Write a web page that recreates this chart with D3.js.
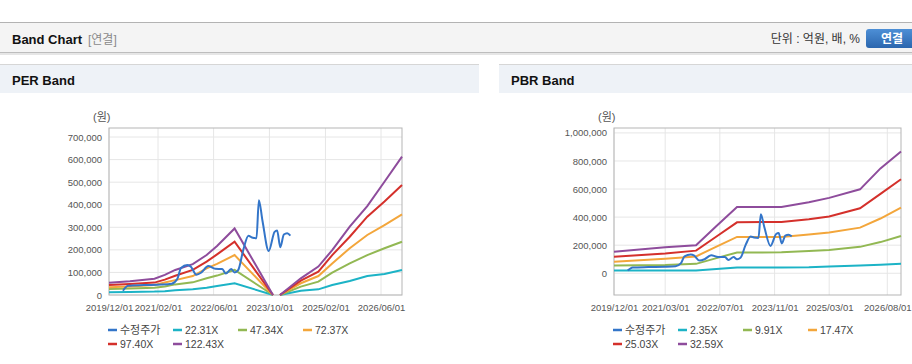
<!DOCTYPE html>
<html>
<head>
<meta charset="utf-8">
<script src="https://cdn.jsdelivr.net/npm/d3@7"></script>
<style>
body { margin: 0; background: #fff; }
svg text { font-family: "Liberation Sans", "Noto Sans CJK KR", sans-serif; }
</style>
</head>
<body>
<svg id="chart" width="912" height="364"></svg>
<script>
// PER band data (values in 원)
var perDates = ["2019/12/01","2020/06/01","2021/01/01","2021/04/01","2021/07/01","2021/12/01","2022/04/01","2022/07/01","2022/12/01","2023/11/01","2023/12/01","2024/01/01","2024/07/01","2024/12/01","2025/04/01","2025/09/01","2026/02/01","2026/07/01","2026/12/01"];
var per2231  = [12000,13000,15000,17000,21000,25000,32000,40000,52000,0,null,0,19000,25000,44000,62000,84000,93000,111000];
var per4734  = [27000,29000,32000,38000,47000,56000,74000,86000,111000,0,null,0,37000,59000,99000,140000,177000,207000,236000];
var per7237  = [34000,38000,44000,55000,66000,84000,118000,138000,177000,0,null,0,52000,84000,140000,207000,266000,310000,357000];
var per9740  = [44000,49000,55000,68000,85000,111000,148000,180000,236000,0,null,0,64000,103000,177000,258000,347000,414000,487000];
var per12243 = [54600,60600,72000,89000,111000,137000,177000,217000,295000,0,null,0,74000,126000,199000,303000,394000,502000,613000];
var perLabels = ["22.31X","47.34X","72.37X","97.40X","122.43X"];
var perXTicks = ["2019/12/01","2021/02/01","2022/06/01","2023/10/01","2025/02/01","2026/06/01"];
var perYTicks = [0,100000,200000,300000,400000,500000,600000,700000];

// PBR band data
var pbrDates = ["2019/12/01","2021/03/01","2021/12/01","2022/06/01","2022/12/01","2024/01/01","2024/09/01","2025/03/01","2025/12/01","2026/06/01","2026/12/01"];
var pbr235  = [19000,19000,19000,30000,41000,41000,42000,48000,55000,60000,67000];
var pbr991  = [55000,58000,67000,108000,148000,149000,158000,166000,188000,222000,266000];
var pbr1747 = [82000,104000,120000,190000,259000,259000,276000,290000,325000,390000,468000];
var pbr2503 = [118000,140000,161000,262000,363000,366000,384000,405000,463000,566000,670000];
var pbr3259 = [154000,186000,200000,336000,472000,472000,506000,537000,598000,747000,868000];
var pbrLabels = ["2.35X","9.91X","17.47X","25.03X","32.59X"];
var pbrXTicks = ["2019/12/01","2021/03/01","2022/07/01","2023/11/01","2025/03/01","2026/08/01"];
var pbrYTicks = [0,200000,400000,600000,800000,1000000];

// 수정주가 (adjusted price)
var priceDates = ["2020/04/01","2020/05/15","2020/10/01","2021/03/01","2021/06/01","2021/07/20","2021/08/20","2021/10/15","2021/11/15","2022/01/01","2022/02/15","2022/04/15","2022/06/15","2022/08/15","2022/09/15","2022/11/01","2022/12/01","2023/01/01","2023/02/15","2023/04/01","2023/05/01","2023/06/10","2023/07/01","2023/08/01","2023/09/25","2023/11/15","2023/12/07","2024/01/04","2024/02/04","2024/03/04","2024/04/01"];
var priceValues = [19000,41000,44000,46000,50000,72000,120000,133000,125000,90000,100000,128000,116000,115000,95000,115000,100000,110000,200000,262000,255000,252000,420000,330000,195000,280000,286000,212000,268000,274000,263000];
var priceLabel = "수정주가";

var colors = ["#3375c9","#1cb3c6","#92b853","#f3a63b","#d4302b","#8e4c9c"];

var parseDate = d3.timeParse("%Y/%m/%d");
var svg = d3.select("#chart");

// ---- page chrome ----
svg.append("rect").attr("x",0).attr("y",22).attr("width",912).attr("height",1).attr("fill","#b3b3b3");
svg.append("rect").attr("x",0).attr("y",23).attr("width",912).attr("height",30).attr("fill","#f4f4f4");
svg.append("rect").attr("x",0).attr("y",52).attr("width",912).attr("height",1).attr("fill","#bdbdbd");
svg.append("rect").attr("x",0).attr("y",53).attr("width",912).attr("height",2).attr("fill","#e6e6e6");
svg.append("text").attr("x",12).attr("y",44).attr("font-size",13).attr("font-weight","bold").attr("fill","#111").text("Band Chart");
svg.append("text").attr("x",88).attr("y",44).attr("font-size",12).attr("fill","#8a8a8a").text("[연결]");
svg.append("text").attr("x",860).attr("y",43).attr("font-size",12).attr("fill","#333").attr("text-anchor","end").text("단위 : 억원, 배, %");

var grad = svg.append("defs").append("linearGradient").attr("id","btn").attr("x1",0).attr("y1",0).attr("x2",0).attr("y2",1);
grad.append("stop").attr("offset","0%").attr("stop-color","#4d8fd6");
grad.append("stop").attr("offset","100%").attr("stop-color","#2b66ae");
svg.append("rect").attr("x",866).attr("y",29).attr("width",52).attr("height",19).attr("rx",3).attr("fill","url(#btn)");
svg.append("text").attr("x",892).attr("y",43).attr("font-size",12).attr("font-weight","bold").attr("fill","#fff").attr("text-anchor","middle").text("연결");

function panel(x0, w, title) {
    svg.append("rect").attr("x",x0).attr("y",64).attr("width",w).attr("height",1).attr("fill","#d6d6d6");
    svg.append("rect").attr("x",x0).attr("y",65).attr("width",w).attr("height",28).attr("fill","#eef2f7");
    svg.append("text").attr("x",x0+12).attr("y",85).attr("font-size",13).attr("font-weight","bold").attr("fill","#111").text(title);
}
panel(0, 479, "PER Band");
panel(499, 413, "PBR Band");

// ---- chart drawing ----
function drawBand(cfg) {
    var x = d3.scaleTime()
        .domain([parseDate("2019/12/01"), parseDate("2026/12/01")])
        .range([cfg.left, cfg.right]);
    var y = d3.scaleLinear().domain(cfg.yDomain).range([cfg.bottom, cfg.top]);

    var g = svg.append("g");

    // gridlines
    g.selectAll(".hgrid").data(cfg.yTicks).enter().append("line")
        .attr("x1", cfg.left).attr("x2", cfg.right)
        .attr("y1", function(d) { return y(d); }).attr("y2", function(d) { return y(d); })
        .attr("stroke", "#e6e6e6");
    g.selectAll(".vgrid").data(cfg.xTicks).enter().append("line")
        .attr("y1", cfg.top).attr("y2", cfg.bottom)
        .attr("x1", function(d) { return x(parseDate(d)); }).attr("x2", function(d) { return x(parseDate(d)); })
        .attr("stroke", "#e6e6e6");

    // frame
    g.append("rect").attr("x", cfg.left).attr("y", cfg.top)
        .attr("width", cfg.right - cfg.left).attr("height", cfg.bottom - cfg.top)
        .attr("fill", "none").attr("stroke", "#b5b5b5");

    // axes
    var yAxis = d3.axisLeft(y).tickValues(cfg.yTicks).tickSize(0).tickPadding(7)
        .tickFormat(d3.format(","));
    g.append("g").attr("transform", "translate(" + cfg.left + ",0)").call(yAxis)
        .call(function(a) { a.select(".domain").remove(); })
        .selectAll("text").attr("font-size", 9.5).attr("fill", "#555");

    var xAxis = d3.axisBottom(x).tickValues(cfg.xTicks.map(parseDate)).tickSize(0).tickPadding(9)
        .tickFormat(d3.timeFormat("%Y/%m/%d"));
    g.append("g").attr("transform", "translate(0," + cfg.bottom + ")").call(xAxis)
        .call(function(a) { a.select(".domain").remove(); })
        .selectAll("text").attr("font-size", 9.5).attr("fill", "#555");

    g.append("text").attr("x", cfg.left - 16).attr("y", 121).attr("font-size", 11)
        .attr("fill", "#555").text("(원)");

    // band lines
    var line = d3.line()
        .defined(function(d) { return d.v !== null; })
        .x(function(d) { return x(d.date); })
        .y(function(d) { return y(d.v); });

    cfg.bands.forEach(function(vals, i) {
        var pts = cfg.dates.map(function(s, j) { return { date: parseDate(s), v: vals[j] }; });
        g.append("path").datum(pts)
            .attr("fill", "none").attr("stroke", colors[i + 1]).attr("stroke-width", 2)
            .attr("d", line);
    });

    // price line
    var priceLine = d3.line().curve(d3.curveMonotoneX)
        .x(function(d) { return x(d.date); })
        .y(function(d) { return y(d.v); });
    var ppts = priceDates.map(function(s, j) { return { date: parseDate(s), v: priceValues[j] }; });
    g.append("path").datum(ppts)
        .attr("fill", "none").attr("stroke", colors[0]).attr("stroke-width", 2)
        .attr("d", priceLine);

    // legend
    var names = [priceLabel].concat(cfg.labels);
    var legend = g.selectAll(".legend").data(names).enter().append("g")
        .attr("transform", function(d, i) {
            return "translate(" + (cfg.left - 1 + (i % 4) * 65) + "," + (330 + Math.floor(i / 4) * 14) + ")";
        });
    legend.append("line").attr("x1", 0).attr("x2", 9).attr("y1", 0).attr("y2", 0)
        .attr("stroke", function(d, i) { return colors[i]; }).attr("stroke-width", 2.5);
    legend.append("text").attr("x", 12).attr("y", 4)
        .attr("font-size", function(d, i) { return i === 0 ? 11 : 10.5; })
        .attr("fill", "#444").text(function(d) { return d; });
}

drawBand({
    left: 109, right: 402, top: 128, bottom: 295,
    yDomain: [0, 740000], yTicks: perYTicks, xTicks: perXTicks,
    dates: perDates, bands: [per2231, per4734, per7237, per9740, per12243], labels: perLabels
});
drawBand({
    left: 614, right: 901, top: 128, bottom: 295,
    yDomain: [-155000, 1035000], yTicks: pbrYTicks, xTicks: pbrXTicks,
    dates: pbrDates, bands: [pbr235, pbr991, pbr1747, pbr2503, pbr3259], labels: pbrLabels
});
</script>
</body>
</html>
